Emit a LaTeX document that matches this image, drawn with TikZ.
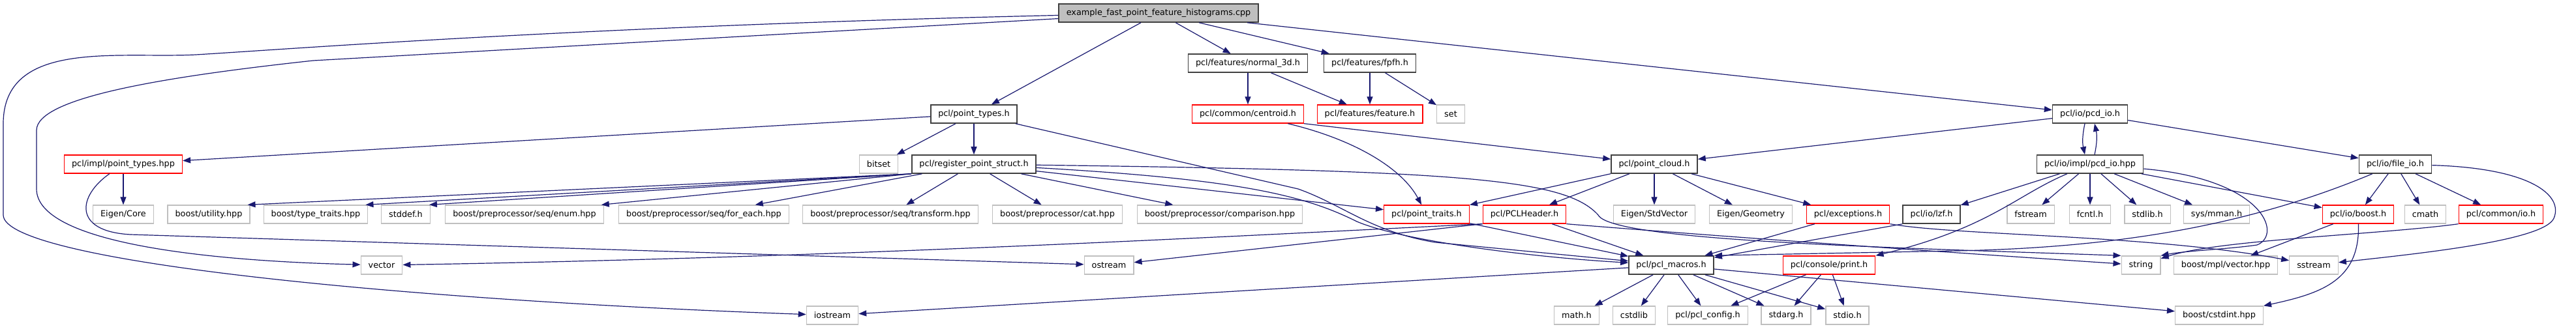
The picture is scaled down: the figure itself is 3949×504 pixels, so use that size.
\documentclass[tikz,border=0pt]{standalone}
\usepackage{fontspec}
\usepackage{tikz}
\usetikzlibrary{arrows.meta}
\newfontfamily\doxfont{DejaVu Sans}
\definecolor{edgeblue}{RGB}{25,25,112}
\definecolor{boxgray}{RGB}{191,191,191}
\definecolor{boxred}{RGB}{255,0,0}
\definecolor{boxdark}{RGB}{64,64,64}
\tikzset{
  file/.style={rectangle,inner xsep=11.5pt,inner ysep=0pt,minimum height=28pt,
               font=\doxfont\fontsize{12.8}{15}\selectfont},
  hdr/.style={file,draw=boxdark,line width=1.6pt},
  trunc/.style={file,draw=boxred,line width=1.4pt},
  sys/.style={file,draw=boxgray,line width=1.3pt},
  root/.style={hdr,fill=boxgray},
  dep/.style={edgeblue,line width=1.2pt,-{Triangle[length=12pt,width=9pt]}}
}
\begin{document}
\begin{tikzpicture}[x=1pt,y=-1pt]
\useasboundingbox[fill=white] (0,0) rectangle (3949,504);
% row 0
\node[root] (main) at (1776,20) {example\_fast\_point\_feature\_histograms.cpp};
% row 1
\node[hdr] (normal) at (1913,97) {pcl/features/normal\_3d.h};
\node[hdr] (fpfh) at (2100,97) {pcl/features/fpfh.h};
% row 2
\node[hdr] (ptypes) at (1493,175) {pcl/point\_types.h};
\node[trunc] (centroid) at (1913,175) {pcl/common/centroid.h};
\node[trunc] (feature) at (2100,175) {pcl/features/feature.h};
\node[sys] (set) at (2224,175) {set};
\node[hdr] (pcdio) at (3204,175) {pcl/io/pcd\_io.h};
% row 3
\node[trunc] (ptimpl) at (189,252) {pcl/impl/point\_types.hpp};
\node[sys] (bitset) at (1347,252) {bitset};
\node[hdr] (regpt) at (1493,252) {pcl/register\_point\_struct.h};
\node[hdr] (cloud) at (2536,252) {pcl/point\_cloud.h};
\node[hdr] (pcdhpp) at (3204,252) {pcl/io/impl/pcd\_io.hpp};
\node[hdr] (fileio) at (3672,252) {pcl/io/file\_io.h};
% row 4
\node[sys] (eigcore) at (189,329) {Eigen/Core};
\node[sys] (butil) at (320,329) {boost/utility.hpp};
\node[sys] (btraits) at (484,329) {boost/type\_traits.hpp};
\node[sys] (stddef) at (622,329) {stddef.h};
\node[sys] (ppenum) at (804,329) {boost/preprocessor/seq/enum.hpp};
\node[sys] (ppeach) at (1079,329) {boost/preprocessor/seq/for\_each.hpp};
\node[sys] (pptrans) at (1365,329) {boost/preprocessor/seq/transform.hpp};
\node[sys] (ppcat) at (1621,329) {boost/preprocessor/cat.hpp};
\node[sys] (ppcomp) at (1870,329) {boost/preprocessor/comparison.hpp};
\node[trunc] (ptraits) at (2187,329) {pcl/point\_traits.h};
\node[trunc] (pclhdr) at (2337,329) {pcl/PCLHeader.h};
\node[sys] (eigvec) at (2536,329) {Eigen/StdVector};
\node[sys] (eiggeo) at (2684,329) {Eigen/Geometry};
\node[trunc] (except) at (2833,329) {pcl/exceptions.h};
\node[hdr] (lzf) at (2961,329) {pcl/io/lzf.h};
\node[sys] (fstream) at (3113,329) {fstream};
\node[sys] (fcntl) at (3204,329) {fcntl.h};
\node[sys] (stdlibh) at (3292,329) {stdlib.h};
\node[sys] (mman) at (3398,329) {sys/mman.h};
\node[trunc] (ioboost) at (3615,329) {pcl/io/boost.h};
\node[sys] (cmath) at (3718,329) {cmath};
\node[trunc] (commonio) at (3834,329) {pcl/common/io.h};
% row 5
\node[sys] (vector) at (585,407) {vector};
\node[sys] (ostream) at (1700,407) {ostream};
\node[hdr] (macros) at (2562,407) {pcl/pcl\_macros.h};
\node[trunc] (print) at (2804,407) {pcl/console/print.h};
\node[sys] (string) at (3282,407) {string};
\node[sys] (mplvec) at (3412,407) {boost/mpl/vector.hpp};
\node[sys] (sstream) at (3547,407) {sstream};
% row 6
\node[sys] (iostream) at (1276,484) {iostream};
\node[sys] (mathh) at (2417,484) {math.h};
\node[sys] (cstdlib) at (2505,484) {cstdlib};
\node[sys] (config) at (2618,484) {pcl/pcl\_config.h};
\node[sys] (stdarg) at (2738,484) {stdarg.h};
\node[sys] (stdio) at (2832,484) {stdio.h};
\node[sys] (cstdint) at (3402,484) {boost/cstdint.hpp};
% includes of the example
\draw[dep] (main) -- (ptypes);
\draw[dep] (main) -- (normal);
\draw[dep] (main) -- (fpfh);
\draw[dep] (main) -- (pcdio);
\draw[dep] (main) -- (480,93) .. controls (250,118) and (56,150) .. (56,200)
  -- (56,290) .. controls (56,370) and (300,400) .. (vector);
\draw[dep] (main) .. controls (900,40) and (450,75) .. (300,84)
  .. controls (180,90) and (5,60) .. (5,190) -- (5,330)
  .. controls (5,400) and (600,460) .. (iostream);
% features
\draw[dep] (normal) -- (centroid);
\draw[dep] (normal) -- (feature);
\draw[dep] (fpfh) -- (feature);
\draw[dep] (fpfh) -- (set);
\draw[dep] (centroid) .. controls (2080,215) and (2150,260) .. (ptraits);
\draw[dep] (centroid.south east) -- (cloud);
% point types
\draw[dep] (ptypes) -- (ptimpl);
\draw[dep] (ptypes) -- (bitset);
\draw[dep] (ptypes) -- (regpt);
\draw[dep] (ptypes) -- (1990,290) .. controls (2060,315) and (2100,355) .. (2200,372) -- (macros);
\draw[dep] (ptimpl) -- (eigcore);
\draw[dep] (ptimpl) .. controls (120,300) and (110,355) .. (200,360) -- (ostream);
% register_point_struct
\draw[dep] (regpt.south west) -- ([xshift=-4pt]butil.north east);
\draw[dep] (regpt.south west) -- ([xshift=-4pt]btraits.north east);
\draw[dep] (regpt.south west) -- ([xshift=-2pt]stddef.north east);
\draw[dep] (regpt.south west) -- ([xshift=-4pt]ppenum.north east);
\draw[dep] (regpt) -- (ppeach);
\draw[dep] (regpt) -- (pptrans);
\draw[dep] (regpt) -- (ppcat);
\draw[dep] (regpt) -- (ppcomp);
\draw[dep] (regpt) -- (ptraits);
\draw[dep] (regpt) .. controls (1900,275) and (2000,300) .. (2080,340)
  .. controls (2150,370) and (2350,395) .. (macros);
\draw[dep] (regpt) .. controls (2250,262) and (2400,275) .. (2450,330)
  .. controls (2470,370) and (2900,380) .. (string.north west);
% point cloud
\draw[dep] (cloud) -- (ptraits);
\draw[dep] (cloud) -- (pclhdr);
\draw[dep] (cloud) -- (eigvec);
\draw[dep] (cloud) -- (eiggeo);
\draw[dep] (cloud) -- (except);
\draw[dep] (pclhdr.south west) .. controls (1900,362) and (1300,395) .. (vector);
\draw[dep] (pclhdr.south west) -- (ostream);
\draw[dep] (pclhdr) -- (macros);
\draw[dep] (pclhdr.south east) .. controls (2600,360) and (2950,385) .. (string);
\draw[dep] (ptraits) -- (macros);
\draw[dep] (except) -- (macros);
\draw[dep] (except.south east) .. controls (3000,362) and (3300,360) .. (sstream);
% pcd io
\draw[dep] (pcdio) -- (cloud);
\draw[dep] ([xshift=-8pt]pcdio.south) to[bend right=12] ([xshift=-8pt]pcdhpp.north);
\draw[dep] ([xshift=7pt]pcdhpp.north) to[bend right=12] ([xshift=7pt]pcdio.south);
\draw[dep] (pcdio) -- (fileio);
\draw[dep] (pcdhpp) -- (lzf);
\draw[dep] (pcdhpp) .. controls (3090,300) and (3050,350) .. (print.north east);
\draw[dep] (pcdhpp) -- (fstream);
\draw[dep] (pcdhpp) -- (fcntl);
\draw[dep] (pcdhpp) -- (stdlibh);
\draw[dep] (pcdhpp) -- (mman);
\draw[dep] (pcdhpp) -- (ioboost);
\draw[dep] (pcdhpp) .. controls (3470,275) and (3500,360) .. (3460,376)
  .. controls (3420,382) and (3350,385) .. (string.north east);
\draw[dep] (lzf.south west) -- (macros);
% file io
\draw[dep] (fileio) .. controls (3450,345) and (3250,380) .. (3000,385) -- (macros.north east);
\draw[dep] (fileio) -- (ioboost);
\draw[dep] (fileio) -- (cmath);
\draw[dep] (fileio) -- (commonio);
\draw[dep] (fileio) .. controls (3880,258) and (3930,300) .. (3915,335)
  .. controls (3900,370) and (3700,390) .. (sstream);
\draw[dep] (ioboost) -- (mplvec);
\draw[dep] (ioboost) .. controls (3618,430) and (3560,450) .. (cstdint);
\draw[dep] (commonio.south west) .. controls (3650,360) and (3400,368) .. (string);
% console and macros
\draw[dep] (print) -- (config);
\draw[dep] (print) -- (stdarg);
\draw[dep] (print) -- (stdio);
\draw[dep] (macros) -- (iostream);
\draw[dep] (macros) -- (mathh);
\draw[dep] (macros) -- (cstdlib);
\draw[dep] (macros) -- (config);
\draw[dep] (macros) -- (stdarg);
\draw[dep] (macros) -- (stdio);
\draw[dep] (macros) -- (cstdint);
\end{tikzpicture}
\end{document}
